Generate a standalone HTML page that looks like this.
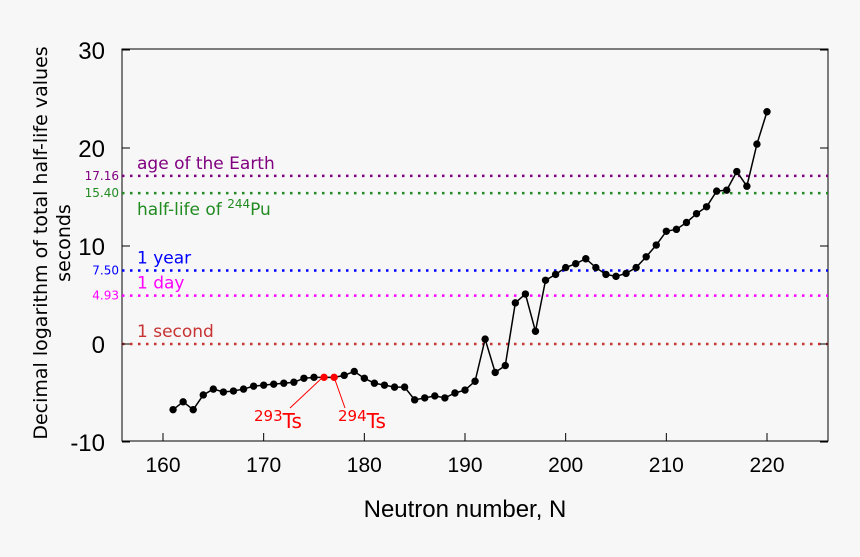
<!DOCTYPE html>
<html><head><meta charset="utf-8"><style>
body{margin:0;background:#f7f7f7;}
svg{display:block;font-family:"DejaVu Sans","Liberation Sans",sans-serif;}
</style></head><body>
<svg id="chart" width="860" height="557">
<rect width="860" height="557" fill="#f7f7f7"/>
<rect x="122" y="49" width="706" height="392" fill="none" stroke="#000" stroke-width="1"/>
<g id="refs"></g>
<g id="axes"></g>
<g id="series"></g>
<g>
<line x1="323" y1="377" x2="290" y2="408" stroke="red" stroke-width="1"/>
<line x1="334" y1="377" x2="345" y2="408" stroke="red" stroke-width="1"/>
<text x="254" y="428" fill="red" font-size="20"><tspan font-size="15" dy="-7">293</tspan><tspan dy="7">Ts</tspan></text>
<text x="338" y="428" fill="red" font-size="20"><tspan font-size="15" dy="-7">294</tspan><tspan dy="7">Ts</tspan></text>
</g>
<text x="465" y="517" text-anchor="middle" font-size="24" font-family="Liberation Sans Narrow,Liberation Sans,sans-serif" transform="scale(1,1)">Neutron number, N</text>
<text transform="translate(47,243) rotate(-90)" text-anchor="middle" font-size="19">Decimal logarithm of total half-life values</text>
<text transform="translate(70,243) rotate(-90)" text-anchor="middle" font-size="19">seconds</text>
</svg>
<script>
const neutrons=[161,162,163,164,165,166,167,168,169,170,171,172,173,174,175,176,177,178,179,180,181,182,183,184,185,186,187,188,189,190,191,192,193,194,195,196,197,198,199,200,201,202,203,204,205,206,207,208,209,210,211,212,213,214,215,216,217,218,219,220];
const logHalfLife=[-6.7,-5.9,-6.7,-5.2,-4.6,-4.9,-4.8,-4.6,-4.3,-4.2,-4.1,-4.0,-3.9,-3.5,-3.4,-3.4,-3.4,-3.2,-2.8,-3.5,-4.0,-4.2,-4.4,-4.4,-5.7,-5.5,-5.3,-5.5,-5.0,-4.7,-3.8,0.5,-2.9,-2.2,4.2,5.1,1.3,6.5,7.1,7.8,8.2,8.7,7.8,7.1,6.9,7.2,7.8,8.9,10.1,11.5,11.7,12.4,13.3,14.0,15.6,15.7,17.6,16.1,20.4,23.7];
const highlighted=[176,177];
const xTicks=[160,170,180,190,200,210,220];
const yTicks=[30,20,10,0,-10];
const yTickLabels=["30","20","10","0","-10"];
const refValues=[17.16,15.40,7.50,4.93,0];
const refLabels=["age of the Earth","half-life of 244Pu","1 year","1 day","1 second"];
const refValueLabels=["17.16","15.40","7.50","4.93",""];
const refColors=["#800080","#228b22","#0000ff","#ff00ff","#c83232"];
const NS="http://www.w3.org/2000/svg";
const x=v=>163+(v-160)*(767-163)/60;
const y=v=>344-v*9.8;
function mk(t,a,p){const e=document.createElementNS(NS,t);for(const k in a)e.setAttribute(k,a[k]);p.appendChild(e);return e;}
const refs=document.getElementById('refs');
refValues.forEach((v,i)=>{
 const l=mk('line',{x1:122,x2:828,y1:y(v),y2:y(v),stroke:refColors[i],'stroke-width':2.5,'stroke-dasharray':'2.5 5.5'},refs);
 
 
 const t=mk('text',{x:137,y:y(v)-(i===1?-22:7),fill:refColors[i],'font-size':17},refs);
 
 
 if(i===1){t.innerHTML='half-life of <tspan font-size="12" dy="-7">244</tspan><tspan dy="7">Pu</tspan>';}
 else t.textContent=refLabels[i];
 if(refValueLabels[i]){const tv=mk('text',{x:119,y:y(v)+4,fill:refColors[i],'font-size':12,'text-anchor':'end'},refs);
 
 
 tv.textContent=refValueLabels[i];}
});
const ax=document.getElementById('axes');
xTicks.forEach(v=>{
 const l=mk('line',{x1:x(v),x2:x(v),y1:441,y2:433,stroke:'#000'},ax);
 
 
 const t=mk('text',{x:x(v),y:472,'text-anchor':'middle','font-size':21,'font-family':'Liberation Sans Narrow,Liberation Sans,sans-serif'},ax);
 
 
 t.textContent=v;
});
yTicks.forEach((v,i)=>{
 const l=mk('line',{x1:122,x2:130,y1:y(v),y2:y(v),stroke:'#000'},ax);
 
 
 const l2=mk('line',{x1:820,x2:828,y1:y(v),y2:y(v),stroke:'#000'},ax);
 
 
 const t=mk('text',{x:105,y:y(v)+9,'text-anchor':'end','font-size':24,'font-family':'Liberation Sans Narrow,Liberation Sans,sans-serif'},ax);
 
 
 t.textContent=yTickLabels[i];
});
const s=document.getElementById('series');
const pl=mk('polyline',{points:neutrons.map((n,i)=>x(n)+','+y(logHalfLife[i])).join(' '),fill:'none',stroke:'#000','stroke-width':1.5},s);


neutrons.forEach((n,i)=>{
 const c=mk('circle',{cx:x(n),cy:y(logHalfLife[i]),r:3.7,fill:highlighted.includes(n)?'#ff0000':'#000'},s);
 
 
});
</script>
</body></html>
